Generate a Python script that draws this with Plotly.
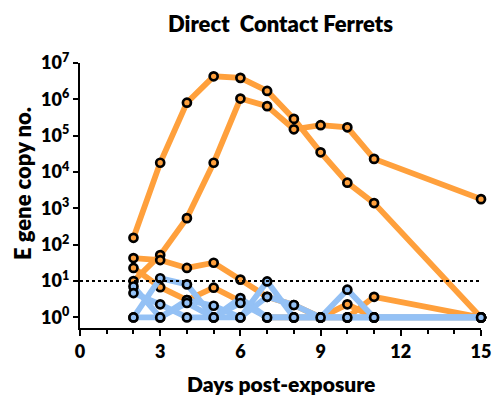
import plotly.graph_objects as go

days = [2, 3, 4, 5, 6, 7, 8, 9, 10, 11, 15]

orange_series = {
    "O1": [155, 1.8e4, 8.1e5, 4.3e6, 3.9e6, 1.7e6, 2.9e5, 3.5e4, 5100, 1400, 1],
    "O2": [10, 52, 540, 1.8e4, 1.05e6, 6.5e5, 1.5e5, 1.95e5, 1.7e5, 2.3e4, 1800],
    "O3": [43, 38, 23, 32, 11, 3.7, 2.2, 1, 2.3, 1, 1],
    "O4": [23, 6.8, 3, 6.6, 2.8, 1, 1, 1, 1, 3.7, 1],
}
blue_series = {
    "B1": [1, 12, 8.1, 1, 1, 9.8, 1, 1, 5.8, 1, 1],
    "B2": [7.1, 1, 3, 2.1, 1, 3.7, 2.2, 1, 1, 1, 1],
    "B3": [4.7, 2.3, 1, 1, 3.4, 1, 1, 1, 1, 1, 1],
    "B4": [1, 1, 2.5, 1, 2.5, 1, 1, 1, 1, 1, 1],
}
limit_of_detection = 10
x_ticks = [0, 3, 6, 9, 12, 15]
y_exponents = [0, 1, 2, 3, 4, 5, 6, 7]

ORANGE = "rgb(255,160,60)"
BLUE = "rgb(148,193,245)"
FONT = "Lato"
WT = 800

W, H = 494, 397
L, R, T, B = 80, 13, 63, 69

fig = go.Figure()

def add(vals, color, name):
    fig.add_trace(go.Scatter(
        x=days, y=vals, mode="lines+markers", name=name,
        line=dict(color=color, width=5.8),
        marker=dict(size=8, color=color, line=dict(color="black", width=2.7)),
        cliponaxis=False, showlegend=False,
    ))

for k, v in orange_series.items():
    add(v, ORANGE, k)
for k, v in blue_series.items():
    add(v, BLUE, k)

fig.add_trace(go.Scatter(
    x=[0, 15], y=[limit_of_detection, limit_of_detection], mode="lines",
    line=dict(color="black", width=2, dash="dot"), showlegend=False, hoverinfo="skip",
))

fig.update_layout(
    width=W, height=H,
    margin=dict(l=L, r=R, t=T, b=B, autoexpand=False),
    plot_bgcolor="white", paper_bgcolor="white",
    font=dict(family=FONT, color="black", size=17, weight=WT),
    title=dict(text="Direct\u00a0 Contact Ferrets", x=0.5, xref="paper",
               y=1 - 24 / H, yanchor="middle", font=dict(size=22, family=FONT, weight=WT)),
)
fig.add_annotation(text="Days post-exposure", xref="paper", yref="paper",
                   x=0.5, y=-(383 - (H - B)) / (H - T - B), xanchor="center", yanchor="middle",
                   showarrow=False, font=dict(size=21, weight=WT))
fig.add_annotation(text="E gene copy no.", xref="paper", yref="paper",
                   x=-(L - 22) / (W - L - R), y=(H - B - 183) / (H - T - B),
                   xanchor="center", yanchor="middle", textangle=-90,
                   showarrow=False, font=dict(size=22, weight=WT))
fig.update_xaxes(
    range=[0, 15], tickvals=x_ticks, ticktext=[str(t) for t in x_ticks],
    showline=True, linecolor="black", linewidth=2.2, ticks="outside",
    ticklen=6, tickwidth=2.2, tickcolor="black", showgrid=False, zeroline=False,
    minor=dict(dtick=1, ticks="outside", ticklen=4, tickwidth=2, tickcolor="black", showgrid=False),
    tickfont=dict(size=18, weight=WT), automargin=False,
)
fig.update_yaxes(
    type="log", range=[-0.29, 7],
    tickvals=[10 ** e for e in y_exponents],
    ticktext=[f"10<sup>{e}</sup>" for e in y_exponents],
    showline=True, linecolor="black", linewidth=2.2, ticks="outside",
    ticklen=5, tickwidth=2.2, tickcolor="black", showgrid=False, zeroline=False,
    tickfont=dict(size=18, weight=WT), automargin=False,
)

fig.write_html("out.html")
